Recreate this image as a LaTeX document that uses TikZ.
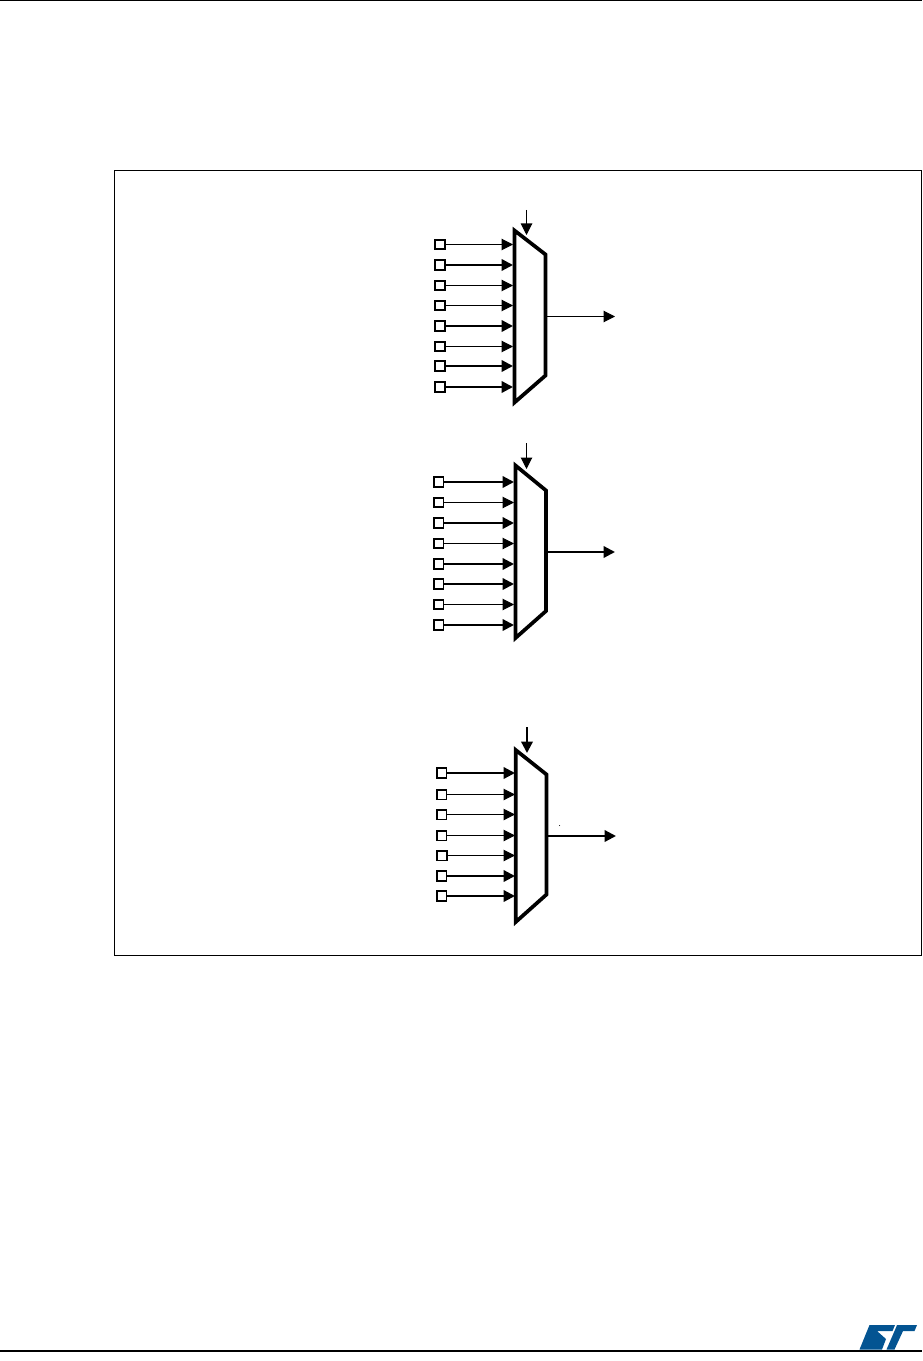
\documentclass[tikz,border=0pt]{standalone}
\usepackage{tikz}
\usetikzlibrary{arrows.meta}
\definecolor{stblue}{RGB}{3,84,146}

\begin{document}
\begin{tikzpicture}[x=0.02cm, y=-0.02cm, >={Triangle[length=0.23cm, width=0.23cm]},
  pad/.style={draw=black, fill=white, line width=1pt, minimum size=0.195cm, inner sep=0pt, outer sep=0.5pt},
  thinwire/.style={black, line width=0.6pt},
  thickwire/.style={black, line width=1.3pt},
  muxbody/.style={draw=black, fill=white, line width=2.1pt, line join=miter}]
  \useasboundingbox (0,0) rectangle (922,1361);

  % Page rules
  \coordinate (topL) at (0,0.7);
  \coordinate (topR) at (922,0.7);
  \coordinate (botL) at (0,1351);
  \coordinate (botR) at (922,1351);
  \draw[line width=0.7pt] (topL) -- (topR);
  \draw[line width=0.7pt] (botL) -- (botR);

  % Outer frame
  \draw[line width=0.6pt] (114.5,170.5) rectangle (921.5,955.5);

  % First multiplexer, eight inputs
  \foreach \y/\wire [count=\i] in {244.5/thinwire, 265/thickwire, 285.5/thinwire, 305.5/thinwire,
      326/thickwire, 346.5/thinwire, 366/thickwire, 387/thickwire} {
    \node[pad] (padA\i) at (440,\y) {};
    \coordinate (inA\i) at (513,\y);
    \draw[\wire, ->] (padA\i) -- (inA\i);
  }
  \draw[muxbody] (514.5,230.5) -- (545.5,254.5) -- (545.5,375.5) -- (514.5,402.5) -- cycle;
  \coordinate (selA) at (526.5,210);
  \coordinate (selAend) at (526.5,235);
  \coordinate (outA) at (546.5,316.5);
  \coordinate (outAend) at (615,316.5);
  \draw[thinwire, ->] (selA) -- (selAend);
  \draw[thinwire, ->] (outA) -- (outAend);

  % Second multiplexer, eight inputs
  \foreach \y/\wire [count=\i] in {482/thickwire, 502.5/thinwire, 523/thickwire, 543.5/thinwire,
      564/thickwire, 584/thickwire, 604.5/thinwire, 625/thickwire} {
    \node[pad] (padB\i) at (438.5,\y) {};
    \coordinate (inB\i) at (514,\y);
    \draw[\wire, ->] (padB\i) -- (inB\i);
  }
  \draw[muxbody] (515.5,465.5) -- (546,490.5) -- (546,611) -- (515.5,638) -- cycle;
  \coordinate (selB) at (526.5,443);
  \coordinate (selBend) at (526.5,469);
  \coordinate (outB) at (547,552);
  \coordinate (outBend) at (615,552);
  \draw[thinwire, ->] (selB) -- (selBend);
  \draw[thickwire, ->] (outB) -- (outBend);

  % Third multiplexer, seven inputs
  \foreach \x/\y/\wire [count=\i] in {441.5/773/thickwire, 441.5/794.5/thinwire, 441.5/814.5/thinwire,
      441.5/835.5/thinwire, 442/855.5/thinwire, 441.5/876/thickwire, 441.5/896/thickwire} {
    \node[pad] (padC\i) at (\x,\y) {};
    \coordinate (inC\i) at (515,\y);
    \draw[\wire, ->] (padC\i) -- (inC\i);
  }
  \draw[muxbody] (515.7,750) -- (546.5,774.5) -- (546.5,894.5) -- (515.7,922) -- cycle;
  \coordinate (selC) at (527,727);
  \coordinate (selCend) at (527,753);
  \coordinate (outC) at (547.5,836);
  \coordinate (outCend) at (616,836);
  \draw[thickwire, ->] (selC) -- (selCend);
  \draw[thickwire, ->] (outC) -- (outCend);
  \fill[black] (559.5,825.5) circle (0.5);

  % Logo
  \fill[stblue] (869.5,1325) -- (895,1325) -- (892.5,1331) -- (877,1331) -- (886,1339)
    -- (882,1349.5) -- (859.5,1349.5) -- (865,1336) -- cycle;
  \fill[stblue] (897,1325) -- (917,1325) -- (914.5,1331) -- (903,1331) -- (894.5,1349.5)
    -- (886.5,1349.5) -- (894.5,1331) -- cycle;
\end{tikzpicture}
\end{document}
